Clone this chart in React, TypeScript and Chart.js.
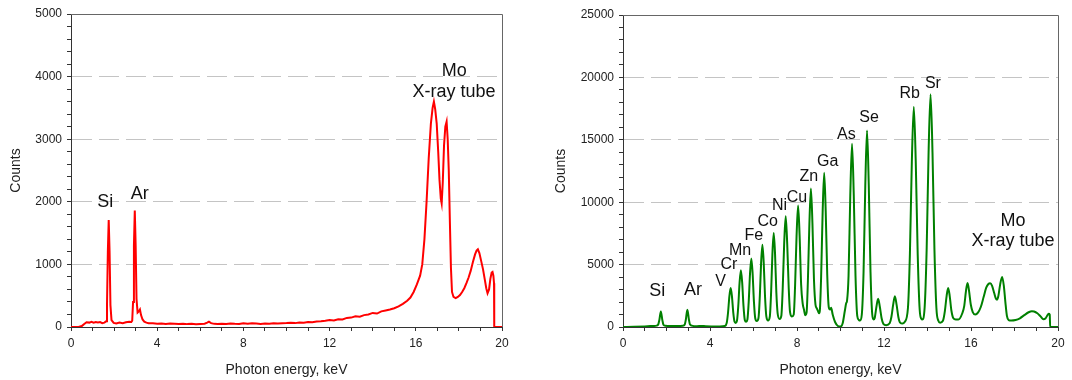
import React, { useEffect, useRef } from 'react';
import { Chart, registerables } from 'chart.js';

Chart.register(...registerables);

const FONT = '"Liberation Sans", Arial, Helvetica, sans-serif';

// ---- Left panel: spectrum [energy keV, counts] ----
const spectrumLeft: [number, number][] = [
  [0, 0], [0.35, 0], [0.5, 15], [0.6, 45], [0.72, 75], [0.85, 70], [0.95, 82], [1.05, 68],
  [1.15, 78], [1.25, 72], [1.35, 80], [1.45, 62], [1.55, 70], [1.63, 90],
  // Si
  [1.67, 350], [1.71, 1200], [1.75, 1710], [1.79, 1200], [1.83, 350], [1.88, 110], [1.98, 65],
  [2.1, 55], [2.25, 70], [2.4, 60], [2.55, 75], [2.7, 85], [2.8, 80], [2.84, 100],
  // Ar
  [2.88, 400], [2.92, 1300], [2.96, 1860], [3.0, 1300], [3.04, 450], [3.09, 230], [3.15, 250],
  [3.2, 280], [3.25, 190], [3.32, 120], [3.4, 85], [3.5, 70],
  // background
  [3.6, 60], [3.8, 58], [4.0, 52], [4.2, 56], [4.4, 48], [4.6, 54], [4.8, 50], [5.0, 47], [5.2, 53],
  [5.4, 46], [5.6, 50], [5.8, 44], [6.0, 49], [6.2, 52], [6.32, 70], [6.4, 85], [6.5, 62], [6.65, 50],
  [6.8, 46], [7.0, 52], [7.2, 48], [7.4, 55], [7.6, 50], [7.8, 47], [8.0, 58], [8.2, 52], [8.4, 60],
  [8.6, 54], [8.8, 49], [9.0, 56], [9.2, 52], [9.4, 58], [9.6, 55], [9.8, 60], [10.0, 62],
  [10.2, 66], [10.4, 62], [10.6, 72], [10.8, 68], [11.0, 80], [11.2, 76], [11.4, 88], [11.6, 92],
  [11.8, 100], [12.0, 110], [12.2, 105], [12.4, 125], [12.6, 120], [12.8, 145], [13.0, 150],
  [13.2, 170], [13.4, 165], [13.6, 190], [13.8, 200], [14.0, 225], [14.2, 215], [14.4, 250],
  [14.6, 265], [14.8, 280], [15.0, 300], [15.2, 330], [15.4, 370], [15.6, 420], [15.75, 470],
  [15.9, 560], [16.05, 680], [16.2, 820],
  // Mo tube lines
  [16.3, 1000], [16.4, 1400], [16.5, 2000], [16.6, 2700], [16.7, 3250], [16.78, 3500], [16.84, 3600],
  [16.9, 3480], [16.97, 3250], [17.04, 2800], [17.1, 2350], [17.16, 2050], [17.2, 1975], [17.25, 2300],
  [17.31, 2900], [17.37, 3200], [17.43, 3280], [17.48, 3000], [17.53, 2500], [17.58, 1700],
  [17.63, 950], [17.68, 560], [17.75, 480], [17.85, 460], [17.95, 480],
  [18.05, 510], [18.15, 560], [18.25, 620], [18.35, 700], [18.45, 790], [18.55, 900], [18.65, 1040],
  [18.75, 1160], [18.82, 1220], [18.88, 1240], [18.95, 1180], [19.03, 1060], [19.12, 920],
  [19.2, 760], [19.27, 620], [19.33, 540], [19.4, 600], [19.46, 770], [19.52, 870], [19.56, 880],
  [19.6, 820], [19.63, 700], [19.64, 0], [20, 0],
];

// ---- Right panel: spectrum [energy keV, counts] ----
const spectrumRight: [number, number][] = [
  [0, 0], [0.5, 20], [1.0, 50], [1.4, 85], [1.55, 110],
  // Si
  [1.62, 200], [1.67, 550], [1.74, 1250], [1.81, 550], [1.86, 180], [1.95, 95],
  [2.2, 80], [2.5, 85], [2.75, 100], [2.84, 200],
  // Ar
  [2.89, 600], [2.96, 1390], [3.03, 600], [3.08, 200], [3.2, 90],
  [3.4, 70], [3.6, 90], [3.8, 60], [4.1, 45], [4.45, 40], [4.68, 80],
  // V
  [4.77, 340], [4.83, 1160], [4.89, 2440], [4.95, 3130], [5.01, 2440], [5.07, 1160], [5.13, 420],
  [5.18, 330],
  // Cr
  [5.24, 500], [5.3, 1680], [5.36, 3550], [5.42, 4550], [5.48, 3550], [5.54, 1680], [5.6, 560],
  [5.66, 420],
  // Mn
  [5.72, 600], [5.78, 2030], [5.84, 4270], [5.9, 5480], [5.96, 4270], [6.02, 2030], [6.08, 700],
  [6.15, 480],
  // Fe
  [6.23, 720], [6.29, 2440], [6.35, 5150], [6.41, 6600], [6.47, 5150], [6.53, 2440], [6.59, 850],
  [6.67, 520],
  // Co
  [6.75, 830], [6.81, 2790], [6.87, 5880], [6.93, 7540], [6.99, 5880], [7.05, 2790], [7.11, 1100],
  [7.2, 650],
  // Ni
  [7.28, 900], [7.34, 2930], [7.41, 6660], [7.48, 8880], [7.55, 6660], [7.62, 3100], [7.68, 1200],
  [7.77, 850],
  // Cu
  [7.85, 1000], [7.91, 3200], [7.98, 7300], [8.05, 9730], [8.12, 7300], [8.19, 3400], [8.26, 1900],
  [8.32, 1400], [8.38, 950],
  // Zn
  [8.44, 1150], [8.5, 3660], [8.57, 8300], [8.64, 11100], [8.71, 8300], [8.78, 3800], [8.85, 1800],
  [8.91, 1500], [8.97, 1250], [9.02, 1100],
  // Ga
  [9.05, 1300], [9.11, 4070], [9.18, 9260], [9.25, 12350], [9.32, 9260], [9.39, 4200], [9.46, 1600],
  [9.52, 1400], [9.57, 1550], [9.64, 1000], [9.75, 400], [9.88, 80], [10.0, 40], [10.1, 300],
  // As
  [10.2, 1300], [10.26, 1900], [10.3, 2100], [10.37, 4100], [10.45, 10570], [10.53, 14680],
  [10.61, 10570], [10.69, 4100], [10.77, 900], [10.85, 550], [10.9, 520],
  // Se
  [10.98, 1000], [11.06, 4400], [11.14, 11340], [11.22, 15750], [11.3, 11340], [11.38, 4400],
  [11.46, 1000], [11.52, 600],
  // As Kb
  [11.57, 700], [11.65, 1600], [11.73, 2270], [11.81, 1600], [11.89, 700], [11.97, 250], [12.1, 150],
  // Se Kb
  [12.26, 300], [12.34, 800], [12.42, 1770], [12.5, 2460], [12.58, 1770], [12.66, 800], [12.74, 350],
  [12.85, 280], [12.95, 400],
  // Rb
  [13.1, 1500], [13.19, 5800], [13.28, 13240], [13.37, 17650], [13.46, 13240], [13.55, 5800],
  [13.64, 1400], [13.72, 650], [13.76, 600],
  // Sr
  [13.87, 1600], [13.96, 6150], [14.05, 13980], [14.14, 18640], [14.23, 13980], [14.32, 6150],
  [14.41, 1500], [14.5, 500], [14.58, 350],
  // Rb Kb
  [14.71, 500], [14.8, 1300], [14.88, 2500], [14.95, 3130], [15.02, 2500], [15.1, 1300], [15.19, 700],
  [15.3, 600], [15.42, 600],
  // Sr Kb
  [15.6, 1100], [15.69, 1700], [15.77, 2900], [15.84, 3530], [15.91, 2900], [15.99, 1800],
  [16.08, 1200], [16.2, 1000],
  // Mo tube lines
  [16.32, 1150], [16.45, 1600], [16.58, 2400], [16.7, 3150], [16.8, 3450], [16.88, 3500],
  [16.97, 3300], [17.07, 2700], [17.15, 2250], [17.2, 2190], [17.26, 2500], [17.34, 3400],
  [17.43, 4010], [17.51, 3300], [17.58, 2000], [17.65, 900], [17.73, 560], [17.85, 520],
  [18.05, 560], [18.25, 700], [18.45, 950], [18.65, 1180], [18.8, 1260], [18.9, 1240],
  [19.05, 1100], [19.2, 850], [19.33, 620], [19.42, 680], [19.5, 900], [19.57, 1070],
  [19.62, 1000], [19.64, 0], [20, 0],
];

// ---- Tick labels ----
const xTickLabels = [0, 4, 8, 12, 16, 20];
const yTickLabelsLeft = [0, 1000, 2000, 3000, 4000, 5000];
const yTickLabelsRight = [0, 5000, 10000, 15000, 20000, 25000];

// ---- Annotations [text, energy, counts (baseline), font size] ----
const notesLeft: [string, number, number, number][] = [
  ['Si', 1.59, 1912, 18],
  ['Ar', 3.19, 2040, 18],
  ['Mo', 17.79, 4010, 18],
  ['X-ray tube', 17.77, 3680, 18],
];
const notesRight: [string, number, number, number][] = [
  ['Si', 1.58, 2460, 18],
  ['Ar', 3.22, 2540, 18],
  ['V', 4.49, 3315, 16],
  ['Cr', 4.87, 4650, 16],
  ['Mn', 5.38, 5750, 16],
  ['Fe', 6.01, 6950, 16],
  ['Co', 6.65, 8075, 16],
  ['Ni', 7.2, 9360, 16],
  ['Cu', 8.0, 10000, 16],
  ['Zn', 8.54, 11680, 16],
  ['Ga', 9.41, 12890, 16],
  ['As', 10.27, 15080, 16],
  ['Se', 11.31, 16440, 16],
  ['Rb', 13.18, 18340, 16],
  ['Sr', 14.25, 19170, 16],
  ['Mo', 17.93, 8130, 18],
  ['X-ray tube', 17.93, 6470, 18],
];

const framePlugin = {
  id: 'frame',
  afterDraw(chart: any) {
    const { ctx, chartArea: a } = chart;
    ctx.save();
    ctx.strokeStyle = '#666';
    ctx.lineWidth = 1;
    ctx.beginPath();
    ctx.moveTo(a.left, a.top + 0.5);
    ctx.lineTo(a.right + 0.5, a.top + 0.5);
    ctx.lineTo(a.right + 0.5, a.bottom);
    ctx.stroke();
    ctx.restore();
  },
};

function notesPlugin(items: [string, number, number, number][]) {
  return {
    id: 'notes',
    afterDatasetsDraw(chart: any) {
      const { ctx, scales } = chart;
      ctx.save();
      ctx.fillStyle = '#111';
      ctx.textAlign = 'center';
      ctx.textBaseline = 'alphabetic';
      for (const [t, e, c, s] of items) {
        ctx.font = `${s}px ${FONT}`;
        ctx.fillText(t, scales.x.getPixelForValue(e), scales.y.getPixelForValue(c));
      }
      ctx.restore();
    },
  };
}

interface PanelCfg {
  data: [number, number][];
  color: string;
  smooth: boolean;
  yMax: number;
  yMinor: number;
  yLabels: number[];
  yWidth: number;
  padTop: number;
  padRight: number;
  yTitlePad: number;
  notes: [string, number, number, number][];
}

function buildConfig(p: PanelCfg): any {
  const major = p.yLabels[1] - p.yLabels[0];
  return {
    type: 'line',
    data: {
      datasets: [
        {
          data: p.data.map(([x, y]) => ({ x, y })),
          borderColor: p.color,
          borderWidth: 2,
          pointRadius: 0,
          fill: false,
          tension: 0,
          cubicInterpolationMode: p.smooth ? 'monotone' : 'default',
        },
      ],
    },
    options: {
      responsive: false,
      animation: false,
      devicePixelRatio: 1,
      layout: { padding: { left: 0, right: p.padRight, top: p.padTop, bottom: 0 } },
      plugins: { legend: { display: false }, tooltip: { enabled: false } },
      scales: {
        x: {
          type: 'linear',
          min: 0,
          max: 20,
          ticks: {
            stepSize: 1,
            autoSkip: false,
            maxRotation: 0,
            minRotation: 0,
            padding: 5,
            color: '#222',
            font: { family: FONT, size: 12 },
            callback: (v: number) => (xTickLabels.includes(v) ? String(v) : ''),
          },
          grid: { drawOnChartArea: false, tickLength: 4, tickColor: '#333', lineWidth: 1 },
          border: { color: '#333', width: 1 },
          title: {
            display: true,
            text: 'Photon energy, keV',
            color: '#222',
            font: { family: FONT, size: 14 },
            padding: { top: 0, bottom: 1 },
          },
          afterFit: (s: any) => {
            s.height = 53;
          },
        },
        y: {
          type: 'linear',
          min: 0,
          max: p.yMax,
          ticks: {
            stepSize: p.yMinor,
            autoSkip: false,
            padding: 5,
            color: '#222',
            font: { family: FONT, size: 12 },
            callback: (v: number) => (p.yLabels.includes(v) ? String(v) : ''),
          },
          grid: {
            tickLength: 4,
            tickColor: '#333',
            lineWidth: 1,
            color: (ctx: any) => {
              const v = ctx.tick ? ctx.tick.value : -1;
              return v > 0 && v < p.yMax && v % major === 0 ? '#c4c4c4' : 'rgba(0,0,0,0)';
            },
          },
          border: { color: '#333', width: 1, dash: [20, 7] },
          title: {
            display: true,
            text: 'Counts',
            color: '#222',
            font: { family: FONT, size: 14 },
            padding: { top: p.yTitlePad, bottom: 0 },
          },
          afterFit: (s: any) => {
            s.width = p.yWidth;
          },
        },
      },
    },
    plugins: [framePlugin, notesPlugin(p.notes)],
  };
}

const leftCfg: PanelCfg = {
  data: spectrumLeft,
  color: '#ff0000',
  smooth: false,
  yMax: 5000,
  yMinor: 200,
  yLabels: yTickLabelsLeft,
  yWidth: 71,
  padTop: 14,
  padRight: 34,
  yTitlePad: 7.6,
  notes: notesLeft,
};

const rightCfg: PanelCfg = {
  data: spectrumRight,
  color: '#008000',
  smooth: true,
  yMax: 25000,
  yMinor: 1000,
  yLabels: yTickLabelsRight,
  yWidth: 87,
  padTop: 15,
  padRight: 14,
  yTitlePad: 16.6,
  notes: notesRight,
};

function Panel({ cfg, left }: { cfg: PanelCfg; left: number }) {
  const ref = useRef<HTMLCanvasElement>(null);
  useEffect(() => {
    const chart = new Chart(ref.current as HTMLCanvasElement, buildConfig(cfg));
    return () => chart.destroy();
  }, []);
  return (
    <canvas
      ref={ref}
      width={536}
      height={380}
      style={{ position: 'absolute', left, top: 0, width: 536, height: 380 }}
    />
  );
}

export default function App() {
  useEffect(() => {
    document.body.style.margin = '0';
  }, []);
  return (
    <div style={{ position: 'absolute', left: 0, top: 0, width: 1072, height: 380, background: '#fff', overflow: 'hidden' }}>
      <Panel cfg={leftCfg} left={0} />
      <Panel cfg={rightCfg} left={536} />
    </div>
  );
}
